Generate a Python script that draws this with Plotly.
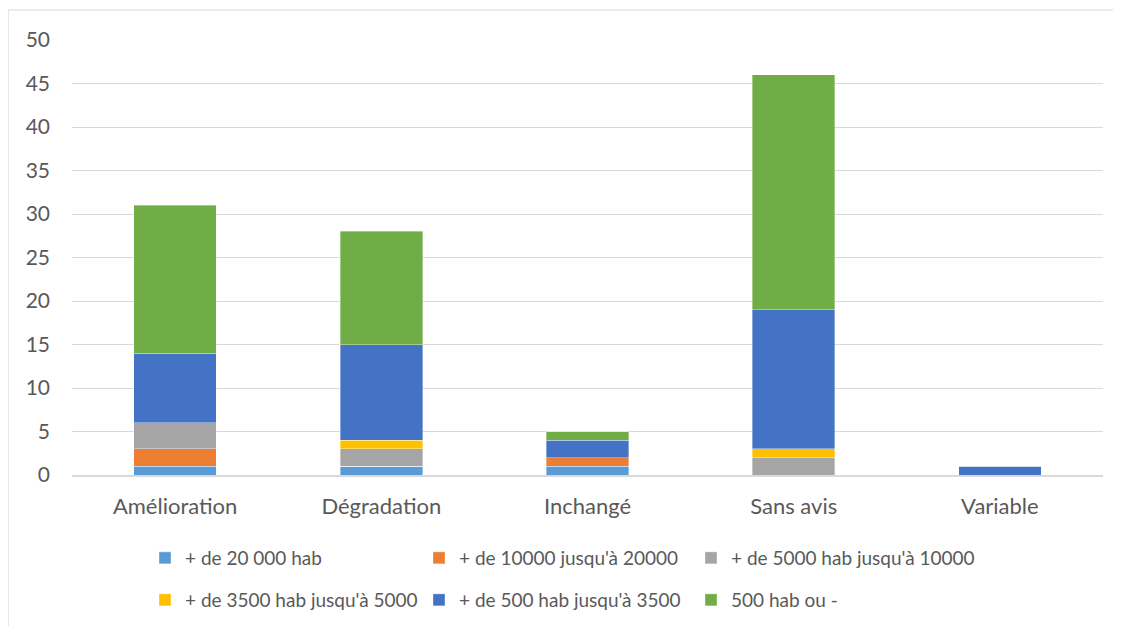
import plotly.graph_objects as go

categories = ["Amélioration", "Dégradation", "Inchangé", "Sans avis", "Variable"]
series_names = [
    "+ de 20 000 hab",
    "+ de 10000 jusqu'à 20000",
    "+ de 5000 hab jusqu'à 10000",
    "+ de 3500 hab jusqu'à 5000",
    "+ de 500 hab jusqu'à 3500",
    "500 hab ou -",
]
v_20000 = [1, 1, 1, 0, 0]
v_10000 = [2, 0, 1, 0, 0]
v_5000 = [3, 2, 0, 2, 0]
v_3500 = [0, 1, 0, 1, 0]
v_500 = [8, 11, 2, 16, 1]
v_500moins = [17, 13, 1, 27, 0]
y_ticks = [0, 5, 10, 15, 20, 25, 30, 35, 40, 45, 50]

values = [v_20000, v_10000, v_5000, v_3500, v_500, v_500moins]
colors = ["#5B9BD5", "#ED7D31", "#A5A5A5", "#FFC000", "#4472C4", "#70AD47"]
# legend rows/columns: first two columns share a legend per row, third column separate
legends = ["legend", "legend", "legend3", "legend2", "legend2", "legend4"]

# page body has an 8px margin; work in page pixels and offset
OFF = 8
W, H = 1121 - OFF, 626 - OFF
ml, mr, mt, mb = 72 - OFF, 18, 40 - OFF, 151
pw, ph = W - ml - mr, H - mt - mb

FONT = "Lato"
TXT = "#595959"

fig = go.Figure()
for name, vals, col, lg in zip(series_names, values, colors, legends):
    fig.add_trace(go.Bar(
        x=categories, y=vals, name=name,
        marker=dict(color=col, line=dict(color="rgba(255,255,255,0.6)", width=0.6)),
        legend=lg,
    ))

def px_to_paper_x(px):
    return (px - OFF - ml) / pw

def px_to_paper_y(py):
    return (H - mb - (py - OFF)) / ph

leg_common = dict(
    orientation="h", xanchor="left", yanchor="middle",
    font=dict(family=FONT, size=19, color=TXT),
    bgcolor="rgba(0,0,0,0)", itemclick=False, itemdoubleclick=False,
    traceorder="normal",
)
leg_multi = dict(entrywidth=229, entrywidthmode="pixels", **leg_common)

COL1_X, COL3_X = 145, 145 + 2 * 273
ROW1_Y, ROW2_Y = 558, 600

fig.update_layout(
    width=W, height=H,
    margin=dict(l=ml, r=mr, t=mt, b=mb, autoexpand=False),
    barmode="stack", bargap=0.6,
    paper_bgcolor="white", plot_bgcolor="white",
    font=dict(family=FONT, size=18, color=TXT),
    showlegend=True,
    legend=dict(x=px_to_paper_x(COL1_X), y=px_to_paper_y(ROW1_Y), **leg_multi),
    legend2=dict(x=px_to_paper_x(COL1_X), y=px_to_paper_y(ROW2_Y), **leg_multi),
    legend3=dict(x=px_to_paper_x(COL3_X), y=px_to_paper_y(ROW1_Y), **leg_common),
    legend4=dict(x=px_to_paper_x(COL3_X), y=px_to_paper_y(ROW2_Y), **leg_common),
    xaxis=dict(
        showgrid=False, showline=True, linecolor="#d9d9d9", linewidth=1.5,
        ticks="", tickfont=dict(family=FONT, size=22, color=TXT),
        ticklabelstandoff=11, fixedrange=True,
    ),
    yaxis=dict(
        range=[0, 50], tickvals=y_ticks, showgrid=True, gridcolor="#d9d9d9",
        gridwidth=1.3, zeroline=False, showline=False, ticks="",
        tickfont=dict(family=FONT, size=21, color=TXT),
        ticklabelstandoff=21, fixedrange=True,
    ),
    shapes=[dict(
        type="rect", xref="paper", yref="paper",
        x0=px_to_paper_x(8), x1=px_to_paper_x(1140),
        y0=px_to_paper_y(640), y1=px_to_paper_y(10),
        line=dict(color="#d9d9d9", width=1.2), fillcolor="rgba(0,0,0,0)",
        layer="below",
    )],
)

fig.write_html("out.html")
